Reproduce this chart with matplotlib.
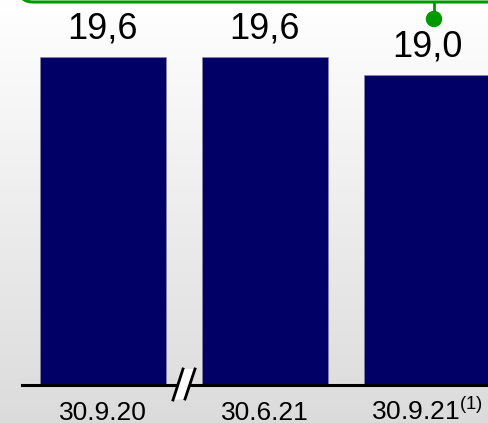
import numpy as np
import matplotlib.pyplot as plt
from matplotlib.patches import FancyBboxPatch, Polygon, Circle
from matplotlib.transforms import offset_copy

plt.rcParams['font.family'] = ['Liberation Sans', 'DejaVu Sans']
plt.rcParams['mathtext.fontset'] = 'custom'
plt.rcParams['mathtext.rm'] = 'Liberation Sans'
plt.rcParams['mathtext.it'] = 'Liberation Sans'

# Data
periods = ['30.9.20', '30.6.21', '30.9.21$^{\\rm (1)}$']
values = [19.6, 19.6, 19.0]
value_labels = ['19,6', '19,6', '19,0']

W, H = 489, 423
fig = plt.figure(figsize=(W / 100, H / 100), dpi=100)

# background gradient + decorations in pixel coordinates
bg = fig.add_axes([0, 0, 1, 1], zorder=0)
grad = np.linspace(1.0, 0.86, 256).reshape(-1, 1)
bg.imshow(np.dstack([grad, grad, grad]), extent=[0, W, H, 0], aspect='auto')
bg.set_xlim(0, W)
bg.set_ylim(H, 0)
bg.axis('off')

green = '#009a00'
box = FancyBboxPatch((19, -40), 520, 42, boxstyle='round,pad=0,rounding_size=14',
                     facecolor='none', edgecolor=green, linewidth=2.2)
bg.add_patch(box)
bg.plot([434, 434], [2, 19], color=green, linewidth=2)
bg.add_patch(Circle((434, 19), 7.5, color=green))

# main bar axes
ax = fig.add_axes([22 / W, (H - 385) / H, (W - 22) / W, 385 / H], zorder=1)
ax.patch.set_alpha(0)
x = np.arange(len(values))
ax.bar(x, values, width=0.778, color='#000066', edgecolor='#8888aa', linewidth=0.4)
ax.set_xlim(-0.5, 2.383)
ax.set_ylim(8.667, 21.5)
for s in ['top', 'right', 'left']:
    ax.spines[s].set_visible(False)
ax.spines['bottom'].set_linewidth(2.2)
ax.set_yticks([])
ax.set_xticks([])

# category labels, baseline aligned below the axis
lab_tr = offset_copy(ax.get_xaxis_transform(), fig=fig, x=0, y=-25, units='points')
for xi, p in zip(x, periods):
    ax.text(xi, 0, p, transform=lab_tr, ha='center', va='baseline', fontsize=19,
            clip_on=False)

for xi, v, lab in zip(x, values, value_labels):
    ax.annotate(lab, (xi, v), xytext=(0, 20), textcoords='offset points',
                ha='center', va='center', fontsize=26)

# axis break mark
top = fig.add_axes([0, 0, 1, 1], zorder=2)
top.set_xlim(0, W)
top.set_ylim(H, 0)
top.axis('off')
top.add_patch(Polygon([(173, 400), (185, 399), (195, 369), (183, 369)],
                      closed=True, facecolor='white', edgecolor='none'))
top.plot([173, 183], [400, 369], color='black', linewidth=2)
top.plot([185, 195], [399, 369], color='black', linewidth=2)

plt.savefig('out.png', dpi=100)
